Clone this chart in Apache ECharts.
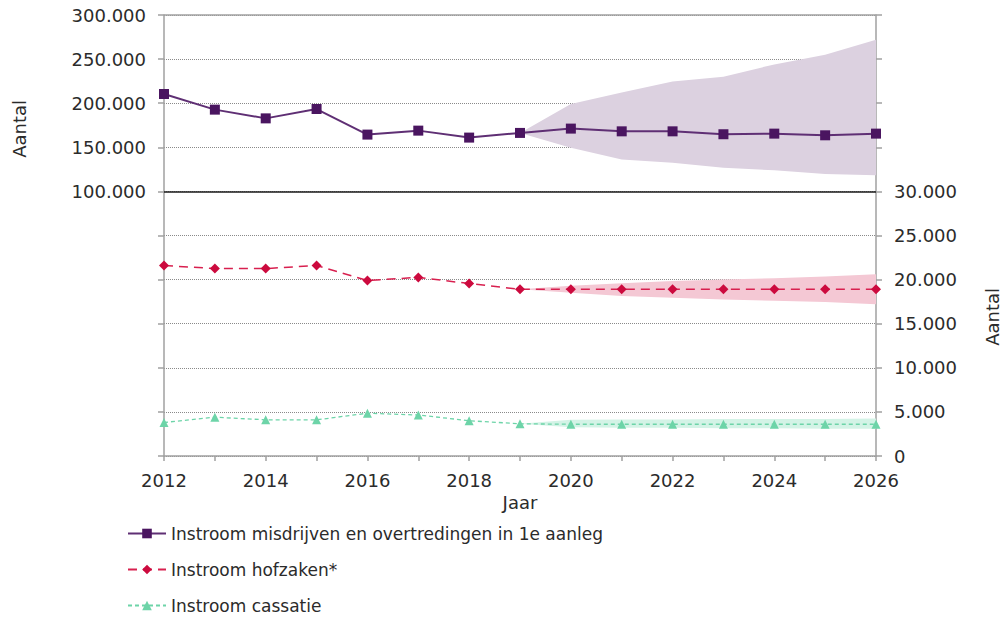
<!DOCTYPE html>
<html>
<head>
<meta charset="utf-8">
<script src="https://cdn.jsdelivr.net/npm/echarts@6/dist/echarts.min.js"></script>
<style>
html,body{margin:0;padding:0;background:#fff;}
#chart{width:1003px;height:618px;}
</style>
</head>
<body>
<div id="chart"></div>
<script>
const years = ['2012','2013','2014','2015','2016','2017','2018','2019','2020','2021','2022','2023','2024','2025','2026'];
const seriesNames = ['Instroom misdrijven en overtredingen in 1e aanleg','Instroom hofzaken*','Instroom cassatie'];

const misdrijven = [210400,192700,182800,193400,164400,168900,161000,166300,171200,168100,168100,164800,165500,163600,165500];
const misdrijvenLow  = ['-','-','-','-','-','-','-',166300,149400,136200,132400,126700,124000,119600,118400];
const misdrijvenHigh = ['-','-','-','-','-','-','-',166300,199000,212000,224600,230000,244000,254800,271800];

const hofzaken = [21600,21250,21250,21600,19900,20250,19550,18900,18900,18900,18900,18900,18900,18900,18900];
const hofzakenLow  = ['-','-','-','-','-','-','-',18900,18500,18150,17950,17750,17600,17450,17200];
const hofzakenHigh = ['-','-','-','-','-','-','-',18900,19300,19600,19850,20000,20150,20350,20600];

const cassatie = [3800,4400,4100,4100,4850,4650,4000,3650,3600,3600,3600,3600,3600,3600,3600];
const cassatieLow  = ['-','-','-','-','-','-','-',3650,3250,3200,3200,3150,3150,3100,3100];
const cassatieHigh = ['-','-','-','-','-','-','-',3650,4100,4150,4150,4200,4200,4200,4250];

const leftTicks = {min:-200000, max:300000, interval:50000, showFrom:100000};
const rightTicks = {min:0, max:50000, interval:5000, showTo:30000};

function fmt(v){ return String(v).replace(/\B(?=(\d{3})+(?!\d))/g,'.'); }
function diff(hi, lo){ return hi.map((h,i)=> (h==='-'||lo[i]==='-') ? '-' : h-lo[i]); }

const FONT = 'DejaVu Sans';
const TXT = '#2b2b2b';
const AX = '#a0a0a0';

function band(name, lo, hi, axis, color){
  return [
    {name:name+'_lo', type:'line', yAxisIndex:axis, stack:name, data:lo, symbol:'none',
     lineStyle:{opacity:0}, silent:true, z:1},
    {name:name+'_band', type:'line', yAxisIndex:axis, stack:name, data:diff(hi,lo), symbol:'none',
     lineStyle:{opacity:0}, areaStyle:{color:color, opacity:1}, silent:true, z:1}
  ];
}

const chart = echarts.init(document.getElementById('chart'), null, {renderer:'svg'});
chart.setOption({
  animation:false,
  backgroundColor:'#fff',
  textStyle:{fontFamily:FONT},
  grid:{left:164, right:127, top:15, bottom:162, containLabel:false},
  legend:{
    data:seriesNames, orient:'vertical', left:127, top:525, height:93, padding:0, itemGap:19,
    itemWidth:38, itemHeight:12,
    textStyle:{fontFamily:FONT, fontSize:17, color:TXT}
  },
  graphic:[
    {type:'text', left:10, top:100, rotation:Math.PI/2, style:{text:'Aantal', font:'18px "DejaVu Sans"', fill:TXT}},
    {type:'text', left:983, top:288, rotation:Math.PI/2, style:{text:'Aantal', font:'18px "DejaVu Sans"', fill:TXT}}
  ],
  xAxis:{
    type:'category', data:years, boundaryGap:false,
    name:'Jaar', nameLocation:'middle', nameGap:30,
    nameTextStyle:{fontFamily:FONT, fontSize:18, color:TXT},
    axisLine:{onZero:false, lineStyle:{color:AX, width:1.5}},
    axisTick:{show:true, interval:0, length:5, lineStyle:{color:AX, width:1.5}},
    axisLabel:{interval:1, margin:15, fontFamily:FONT, fontSize:18, color:TXT},
    splitLine:{show:false}
  },
  yAxis:[
    {type:'value', position:'left', min:leftTicks.min, max:leftTicks.max, interval:leftTicks.interval,
     axisLine:{show:true, lineStyle:{color:AX, width:1.5}},
     axisTick:{show:true, length:6, lineStyle:{color:AX, width:1.5}},
     axisLabel:{margin:18, fontFamily:FONT, fontSize:18, color:TXT,
       formatter:v=> v>=leftTicks.showFrom ? fmt(v) : ''},
     splitLine:{show:true, lineStyle:{color:'#8a8a8a', type:'dotted', width:1}}},
    {type:'value', position:'right', min:rightTicks.min, max:rightTicks.max, interval:rightTicks.interval,
     axisLine:{show:true, lineStyle:{color:AX, width:1.5}},
     axisTick:{show:true, length:6, lineStyle:{color:AX, width:1.5}},
     axisLabel:{margin:18, fontFamily:FONT, fontSize:18, color:TXT,
       formatter:v=> v<=rightTicks.showTo ? fmt(v) : ''},
     splitLine:{show:false}}
  ],
  series:[
    ...band('p', misdrijvenLow, misdrijvenHigh, 0, '#dcd1e0'),
    ...band('r', hofzakenLow, hofzakenHigh, 1, '#f4c8d4'),
    ...band('g', cassatieLow, cassatieHigh, 1, '#d3f3e6'),
    {name:seriesNames[0], type:'line', yAxisIndex:0, data:misdrijven,
     symbol:'rect', symbolSize:10, itemStyle:{color:'#4a1560'},
     lineStyle:{color:'#5f2f74', width:2}, z:5,
     markLine:{silent:true, symbol:'none', label:{show:false},
       data:[{yAxis:100000, lineStyle:{color:'#1a1a1a', type:'solid', width:1.5}},
             {yAxis:300000, lineStyle:{color:AX, type:'solid', width:1.5}}]}},
    {name:seriesNames[1], type:'line', yAxisIndex:1, data:hofzaken,
     symbol:'diamond', symbolSize:10, itemStyle:{color:'#cc0a3e'},
     lineStyle:{color:'#d8204f', width:1.5, type:[9,6]}, z:5},
    {name:seriesNames[2], type:'line', yAxisIndex:1, data:cassatie,
     symbol:'triangle', symbolSize:9, itemStyle:{color:'#6dd4a8'},
     lineStyle:{color:'#6dd4a8', width:1.3, type:[4,3]}, z:5}
  ]
});
</script>
</body>
</html>
